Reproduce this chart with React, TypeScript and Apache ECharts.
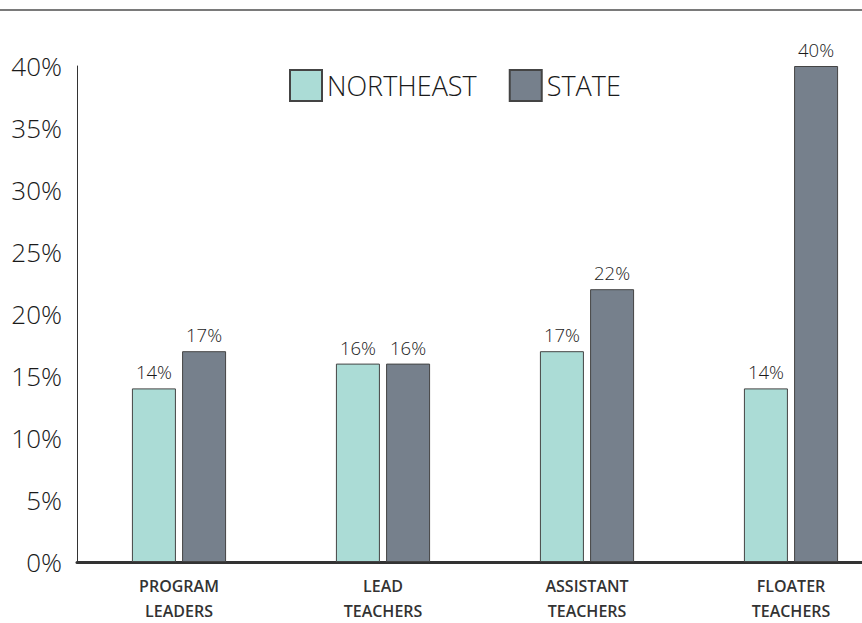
import React, { useEffect, useRef } from "react";
import * as echarts from "echarts";

const categories = ["PROGRAM\nLEADERS", "LEAD\nTEACHERS", "ASSISTANT\nTEACHERS", "FLOATER\nTEACHERS"];
const northeast = [14, 16, 17, 14];
const state = [17, 16, 22, 40];
const seriesNames = ["NORTHEAST", "STATE"];

export default function App() {
  const ref = useRef<HTMLDivElement>(null);
  useEffect(() => {
    document.body.style.margin = "0";
    const chart = echarts.init(ref.current!, undefined, { renderer: "svg" });
    const font = "'Open Sans', 'Noto Sans', sans-serif";
    chart.setOption({
      animation: false,
      textStyle: { fontFamily: font },
      grid: { left: 77, top: 66, bottom: 57, right: 0, containLabel: false },
      legend: {
        data: seriesNames,
        left: 284,
        top: 64,
        icon: "rect",
        itemWidth: 32,
        itemHeight: 31,
        itemGap: 32,
        textStyle: { fontSize: 27, color: "#1a1a1a", fontFamily: font, fontWeight: 300 },
      },
      xAxis: {
        type: "category",
        data: categories,
        axisLine: { lineStyle: { color: "#333", width: 3 } },
        axisTick: { show: false },
        axisLabel: { fontSize: 16, fontWeight: 600, color: "#333", lineHeight: 25, margin: 11, fontFamily: font },
      },
      yAxis: {
        type: "value",
        min: 0,
        max: 40,
        interval: 5,
        axisLine: { show: true, lineStyle: { color: "#333", width: 1 } },
        axisTick: { show: false },
        splitLine: { show: false },
        axisLabel: { formatter: "{value}%", fontSize: 26, fontWeight: 300, color: "#1a1a1a", margin: 15, fontFamily: font },
      },
      graphic: [
        {
          type: "line",
          shape: { x1: 0, y1: 10, x2: 893, y2: 10 },
          style: { stroke: "#7a7a7a", lineWidth: 2 },
        },
      ],
      series: [
        {
          name: seriesNames[0],
          type: "bar",
          data: northeast,
          barWidth: 44,
          barGap: "14%",
          itemStyle: { color: "#abdcd6", borderColor: "#444", borderWidth: 1 },
          label: { show: true, position: "top", formatter: "{c}%", fontSize: 18.5, color: "#1a1a1a", distance: 7, fontWeight: 300 },
        },
        {
          name: seriesNames[1],
          type: "bar",
          data: state,
          barWidth: 44,
          itemStyle: { color: "#76808c", borderColor: "#444", borderWidth: 1 },
          label: { show: true, position: "top", formatter: "{c}%", fontSize: 18.5, color: "#1a1a1a", distance: 7, fontWeight: 300 },
        },
      ],
    });
    return () => chart.dispose();
  }, []);
  return (
    <div style={{ width: 862, height: 623, overflow: "hidden", position: "relative" }}>
      <div ref={ref} style={{ width: 893, height: 623 }} />
    </div>
  );
}
